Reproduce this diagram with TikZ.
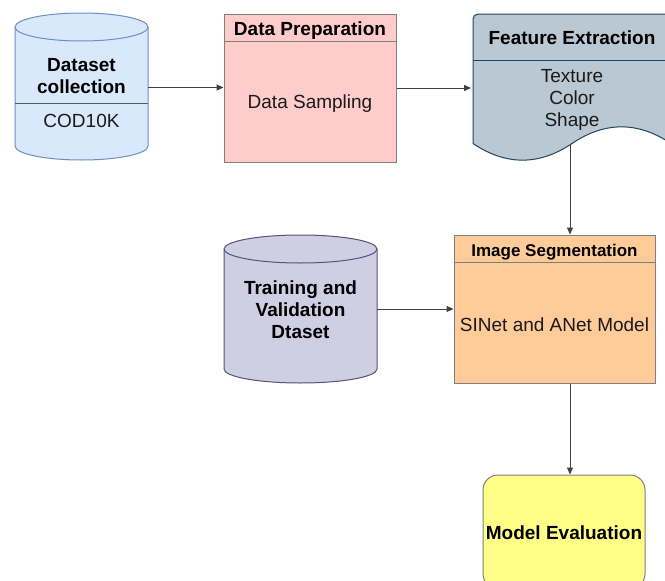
\documentclass[tikz,border=0pt]{standalone}
\usepackage{fontspec}
\setmainfont{Liberation Sans}
\usetikzlibrary{arrows.meta,calc}
\definecolor{cAfill}{HTML}{DAE8FC}
\definecolor{cAline}{HTML}{6C8EBF}
\definecolor{dpfill}{HTML}{FFCCCC}
\definecolor{boxline}{HTML}{7F7F7F}
\definecolor{fefill}{HTML}{BAC8D3}
\definecolor{feline}{HTML}{23445D}
\definecolor{tvfill}{HTML}{D0CEE2}
\definecolor{tvline}{HTML}{56517E}
\definecolor{isfill}{HTML}{FFCC99}
\definecolor{mefill}{HTML}{FFFF88}
\definecolor{txtcol}{HTML}{1A1A1A}
\begin{document}
\begin{tikzpicture}[x=1pt,y=1pt,
  txt/.style={font=\fontsize{19}{22}\selectfont, text=txtcol, align=center, inner sep=0pt},
  btxt/.style={font=\fontsize{19}{22}\selectfont\bfseries, text=black, align=center, inner sep=0pt},
  stxt/.style={font=\fontsize{17}{20}\selectfont\bfseries, text=black, align=center, inner sep=0pt},
  holder/.style={draw=none, fill=none, inner sep=0pt, outer sep=0pt, rectangle},
  conn/.style={draw=black!75, line width=1pt, -{Triangle[length=7pt,width=6pt]}}]
\useasboundingbox (0,0) rectangle (665,-581);
\fill[white] (0,0) rectangle (665,-581);

% Cylinder: Dataset collection
\filldraw[fill=cAfill, draw=cAline, line width=1pt]
  (15,-27) -- (15,-146) arc[start angle=180,end angle=360,x radius=66.5pt,y radius=14pt]
  -- (148,-27) arc[start angle=0,end angle=180,x radius=66.5pt,y radius=14pt] -- cycle;
\draw[cAline, line width=1pt] (15,-27) arc[start angle=180,end angle=360,x radius=66.5pt,y radius=14pt];
\draw[black!65, line width=1pt] (15,-103) -- (148,-103);
\node[holder, minimum width=133, minimum height=147] (c1) at (81.5,-87.5) {};
\node[btxt] (c1t) at (81.5,-76) {Dataset\\collection};
\node[txt] (c1b) at (81.5,-121) {COD10K};

% Data Preparation
\node[draw=boxline, fill=dpfill, line width=1pt, inner sep=0pt, minimum width=172, minimum height=148] (dp) at (310,-88) {};
\draw[boxline, line width=1pt] ($(dp.north west)+(0,-28)$) -- ($(dp.north east)+(0,-28)$);
\node[btxt] (dpt) at (310,-30.5) {Data Preparation};
\node[txt] (dpb) at (310,-104) {Data Sampling};

% Feature Extraction (document shape)
\filldraw[fill=fefill, draw=feline, line width=1pt]
  (671,-143.5) -- (671,-14) -- (478,-14) arc[start angle=90,end angle=180,radius=5pt]
  -- (473,-143.5) .. controls (506,-165.7) and (539,-165.7) .. (572,-143.5)
  .. controls (605,-121.3) and (638,-121.3) .. (671,-143.5) -- cycle;
\draw[feline, line width=1pt] (473,-60) -- (671,-60);
\node[holder, minimum width=198, minimum height=129.5] (fe) at (570,-78.75) {};
\node[btxt] (fet) at (572,-38) {Feature Extraction};
\node[txt] (feb) at (572,-99.5) {Texture\\Color\\Shape};

% Training and Validation cylinder
\filldraw[fill=tvfill, draw=tvline, line width=1pt]
  (224,-249) -- (224,-369) arc[start angle=180,end angle=360,x radius=76.5pt,y radius=14pt]
  -- (377,-249) arc[start angle=0,end angle=180,x radius=76.5pt,y radius=14pt] -- cycle;
\draw[tvline, line width=1pt] (224,-249) arc[start angle=180,end angle=360,x radius=76.5pt,y radius=14pt];
\node[holder, minimum width=153, minimum height=148] (tv) at (300.5,-309) {};
\node[btxt] (tvt) at (300.5,-310) {Training and\\Validation\\Dtaset};

% Image Segmentation
\node[draw=boxline, fill=isfill, line width=1pt, inner sep=0pt, minimum width=201, minimum height=148] (is) at (554.5,-309) {};
\draw[boxline, line width=1pt] ($(is.north west)+(0,-28)$) -- ($(is.north east)+(0,-28)$);
\node[stxt] (ist) at (554.5,-252) {Image Segmentation};
\node[txt] (isb) at (554.5,-325) {SINet and ANet Model};

% Model Evaluation
\node[draw=boxline, fill=mefill, line width=1pt, inner sep=0pt, rounded corners=15pt, minimum width=162, minimum height=114] (me) at (564,-532) {};
\node[btxt] (met) at (564,-533) {Model Evaluation};

% Connectors
\draw[conn] (c1.east) -- (c1.east -| dp.west);
\draw[conn] (dp.east) -- (dp.east -| fe.west);
\draw[conn] (fe.south) -- (fe.south |- is.north);
\draw[conn] (tv.east) -- (tv.east -| is.west);
\draw[conn] (is.south -| fe.south) -- (fe.south |- me.north);
\end{tikzpicture}
\end{document}
